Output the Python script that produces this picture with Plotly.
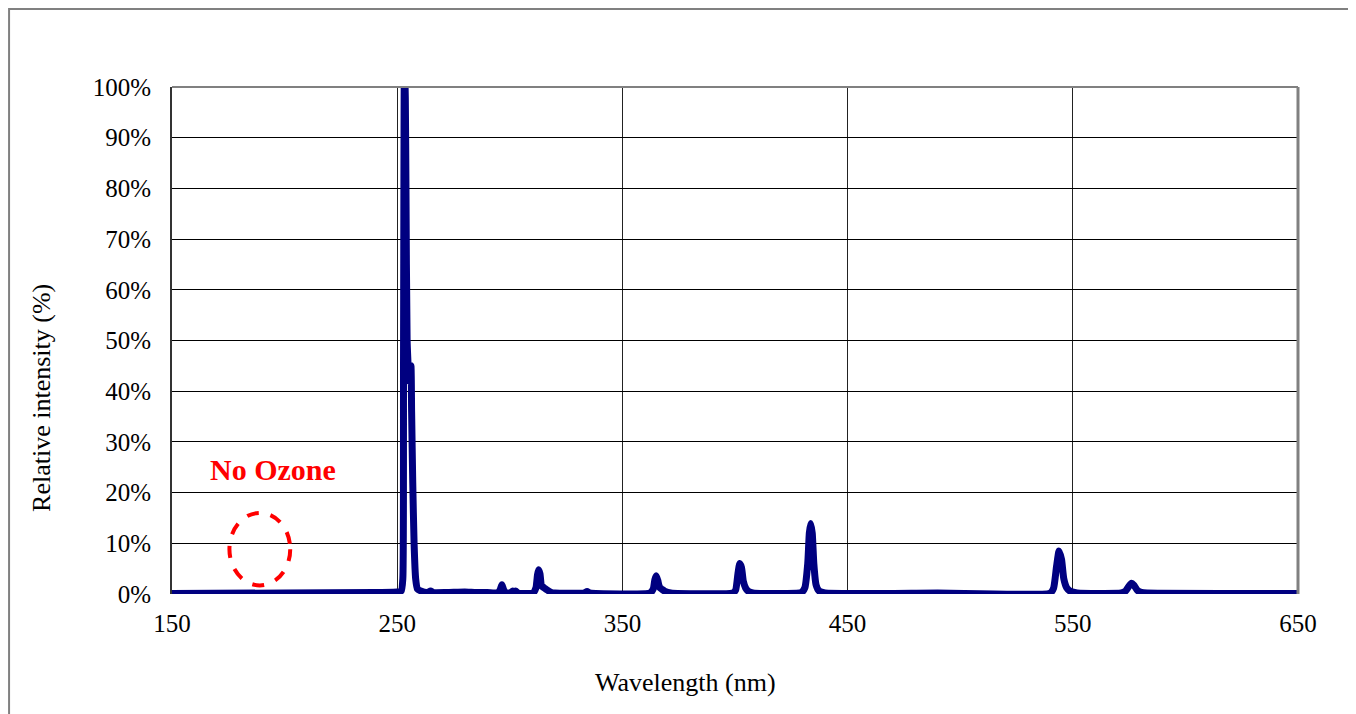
import plotly.graph_objects as go

# Spectrum (wavelength in nm, relative intensity as fraction)
wavelength = [
    150, 200, 240, 250, 251.8, 252.5, 252.8, 253.2, 253.6, 253.9, 254.4, 255.3, 256.1, 256.4,
    256.9, 257.5, 258.2, 259.0, 260.5, 263.5, 264.8, 266.0, 272, 280, 285, 290, 294.5, 295.6, 296.5,
    297.4, 298.6, 300.5, 301.3, 302.0, 302.6, 303.5, 310.3, 311.6, 312.3, 312.8, 313.4, 314.1,
    315.3, 316.5, 318.5, 320, 333, 334.3, 335.5, 362.3, 363.7, 364.4, 365.0, 365.7, 366.5,
    367.6, 369.0, 371.5, 399.0, 400.3, 401.3, 402.1, 402.9, 403.7, 404.7, 406.0, 408,
    429.5, 431.0, 432.3, 433.0, 433.6, 434.3, 435.0, 436.0, 437.3, 440, 490, 540.0, 541.5,
    542.8, 543.9, 545.0, 546.0, 547.3, 549.0, 552, 571.5, 573.5, 575.0, 576.1, 577.2, 578.7,
    580.5, 583, 650,
]
intensity = [
    0.001, 0.002, 0.003, 0.004, 0.006, 0.03, 0.45, 1.05, 0.98, 0.80, 0.50, 0.42, 0.45, 0.36,
    0.22, 0.10, 0.03, 0.010, 0.006, 0.003, 0.006, 0.003, 0.003, 0.004, 0.003, 0.003, 0.002, 0.007, 0.018,
    0.007, 0.002, 0.003, 0.006, 0.003, 0.006, 0.002, 0.002, 0.012, 0.038, 0.048, 0.040, 0.016,
    0.012, 0.008, 0.003, 0.002, 0.002, 0.005, 0.002, 0.002, 0.010, 0.028, 0.036, 0.027, 0.013,
    0.009, 0.005, 0.002, 0.002, 0.008, 0.040, 0.060, 0.052, 0.025, 0.012, 0.005, 0.002,
    0.003, 0.012, 0.060, 0.120, 0.139, 0.120, 0.060, 0.018, 0.006, 0.002, 0.002, 0.002, 0.012,
    0.055, 0.085, 0.068, 0.030, 0.012, 0.005, 0.002, 0.002, 0.006, 0.016, 0.021, 0.017, 0.007,
    0.003, 0.002, 0.001,
]

x_ticks = [150, 250, 350, 450, 550, 650]
y_ticks = [0, 0.1, 0.2, 0.3, 0.4, 0.5, 0.6, 0.7, 0.8, 0.9, 1.0]
y_tick_text = ["0%", "10%", "20%", "30%", "40%", "50%", "60%", "70%", "80%", "90%", "100%"]

FONT = "Liberation Serif"

fig = go.Figure()
fig.add_trace(go.Scatter(
    x=wavelength, y=intensity, mode="lines",
    line=dict(color="#000080", width=7, shape="spline", smoothing=0.5),
    showlegend=False, hoverinfo="x+y",
))

fig.update_layout(
    width=1356, height=714,
    margin=dict(l=164, r=66, t=79, b=128),
    paper_bgcolor="white", plot_bgcolor="white",
    font=dict(family=FONT, color="black", size=25),
    xaxis=dict(
        range=[150, 650], tickvals=x_ticks, ticks="", ticklabelstandoff=12,
        showgrid=True, gridcolor="#222222", gridwidth=1, zeroline=False,
        showline=False, tickfont=dict(family=FONT, size=25, color="black"),
    ),
    yaxis=dict(
        range=[0, 1], tickvals=y_ticks, ticktext=y_tick_text, ticks="", ticklabelstandoff=14,
        showgrid=True, gridcolor="#000000", gridwidth=1, zeroline=False,
        showline=True, linecolor="#333333", linewidth=2,
        tickfont=dict(family=FONT, size=25, color="black"),
    ),
    shapes=[
        # outer chart-area border (right/bottom run past the window edge)
        dict(type="rect", xref="paper", yref="paper", x0=-0.1447, x1=1.2, y0=-0.4, y1=1.1538,
             line=dict(color="#808080", width=2), layer="below"),
        # plot-area frame
        dict(type="line", xref="paper", yref="paper", x0=0, x1=1, y0=1, y1=1,
             line=dict(color="#808080", width=2)),
        dict(type="line", xref="paper", yref="paper", x0=1, x1=1, y0=0, y1=1,
             line=dict(color="#808080", width=3)),
        # dashed ellipse marking the ozone region
        dict(type="circle", xref="x", yref="y", x0=175.5, x1=202.5, y0=0.017, y1=0.160,
             line=dict(color="#ff0000", width=4, dash="dash")),
    ],
    annotations=[
        dict(text="No Ozone", x=194.9, y=0.245, xref="x", yref="y", showarrow=False,
             font=dict(family=FONT, size=30, color="#ff0000", weight="bold"),
             xanchor="center", yanchor="middle"),
        dict(text="Wavelength (nm)", x=0.456, y=-0.1755, xref="paper", yref="paper",
             showarrow=False, font=dict(family=FONT, size=26, color="black"),
             xanchor="center", yanchor="middle"),
        dict(text="Relative intensity (%)", x=-0.1155, y=0.3866, xref="paper", yref="paper",
             showarrow=False, textangle=-90, font=dict(family=FONT, size=26, color="black"),
             xanchor="center", yanchor="middle"),
    ],
)

fig.write_html("out.html")
